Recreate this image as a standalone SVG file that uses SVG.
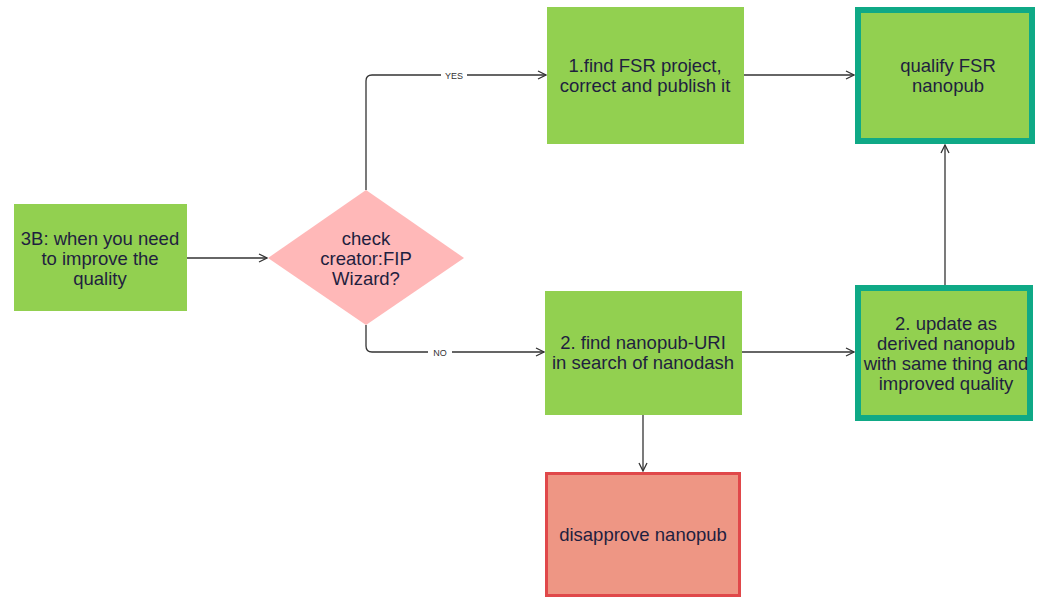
<svg xmlns="http://www.w3.org/2000/svg" width="1045" height="600" viewBox="0 0 1045 600">
<defs>
<style>
.green{fill:#92d050;}
.t{font-family:"Liberation Sans",Arial,sans-serif;font-size:18.5px;fill:#1f1f3f;text-anchor:middle;}
.lbl{font-family:"Liberation Sans",Arial,sans-serif;font-size:9px;fill:#333;text-anchor:middle;}
.c{fill:none;stroke:#333;stroke-width:1.3;marker-end:url(#ah);}
</style>
<marker id="ah" viewBox="0 0 10 10" refX="9" refY="5" markerWidth="10" markerHeight="10" markerUnits="userSpaceOnUse" orient="auto">
<path d="M1,1 L9,5 L1,9" fill="none" stroke="#333" stroke-width="1.3"/>
</marker>
</defs>
<rect width="1045" height="600" fill="#ffffff"/>
<g id="connectors">
<path class="c" d="M187,258 L267,258"/>
<path class="c" d="M366,190 L366,81 Q366,75 372,75 L546,75"/>
<path class="c" d="M366,325 L366,346 Q366,352 372,352 L544,352"/>
<path class="c" d="M744,75 L854,75"/>
<path class="c" d="M742,352 L854,352"/>
<path class="c" d="M945,285 L945,145"/>
<path class="c" d="M643,415 L643,471"/>
<rect x="441" y="69" width="26" height="12" fill="#fff"/>
<text class="lbl" x="454" y="78.5">YES</text>
<rect x="428" y="346" width="24" height="12" fill="#fff"/>
<text class="lbl" x="440" y="355.5">NO</text>
</g>
<g id="n-3b">
<rect class="green" x="14" y="204" width="173" height="107"/>
<text class="t" x="100" y="245">3B: when you need</text>
<text class="t" x="100" y="265">to improve the</text>
<text class="t" x="100" y="285">quality</text>
</g>
<g id="n-check">
<polygon points="366,190 464,258 366,325 268,258" fill="#ffb8b8"/>
<text class="t" x="366" y="245">check</text>
<text class="t" x="366" y="265">creator:FIP</text>
<text class="t" x="366" y="285">Wizard?</text>
</g>
<g id="n-find-fsr">
<rect class="green" x="547" y="7" width="197" height="137"/>
<text class="t" x="645" y="72">1.find FSR project,</text>
<text class="t" x="645" y="92">correct and publish it</text>
</g>
<g id="n-qualify">
<rect class="green" x="858" y="10" width="174" height="131" stroke="#0fa986" stroke-width="6"/>
<text class="t" x="948" y="72">qualify FSR</text>
<text class="t" x="948" y="92">nanopub</text>
</g>
<g id="n-find-uri">
<rect class="green" x="545" y="291" width="197" height="124"/>
<text class="t" x="643" y="349">2. find nanopub-URI</text>
<text class="t" x="643" y="369">in search of nanodash</text>
</g>
<g id="n-update">
<rect class="green" x="858" y="288" width="172" height="130" stroke="#0fa986" stroke-width="6"/>
<text class="t" x="946" y="330">2. update as</text>
<text class="t" x="946" y="350">derived nanopub</text>
<text class="t" x="946" y="370">with same thing and</text>
<text class="t" x="946" y="390">improved quality</text>
</g>
<g id="n-disapprove">
<rect x="546.5" y="473.5" width="193" height="122" fill="#ee9684" stroke="#e0484a" stroke-width="3"/>
<text class="t" x="643" y="541">disapprove nanopub</text>
</g>
</svg>
